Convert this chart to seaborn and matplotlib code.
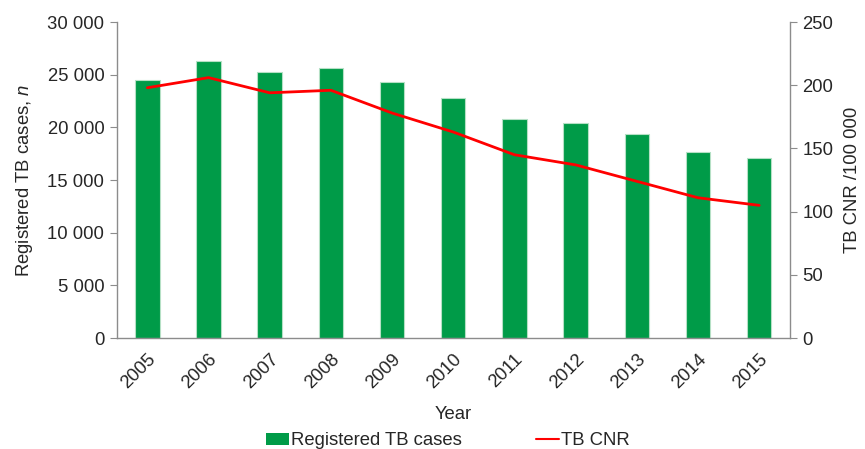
import numpy as np
import pandas as pd
import matplotlib
matplotlib.use("Agg")
import matplotlib.pyplot as plt
import seaborn as sns
from matplotlib.patches import Patch
from matplotlib.lines import Line2D

years = ["2005", "2006", "2007", "2008", "2009", "2010", "2011", "2012", "2013", "2014", "2015"]
cases = [24450, 26300, 25230, 25650, 24320, 22750, 20800, 20420, 19330, 17680, 17130]
cnr = [198, 206, 194, 196, 178, 163, 145, 137, 124, 111, 105]

left_ticks = [0, 5000, 10000, 15000, 20000, 25000, 30000]
left_labels = ["0", "5 000", "10 000", "15 000", "20 000", "25 000", "30 000"]
right_ticks = [0, 50, 100, 150, 200, 250]

sns.set_style("white")
plt.rcParams["font.family"] = ["Liberation Sans", "DejaVu Sans"]
plt.rcParams["mathtext.fontset"] = "custom"
plt.rcParams["mathtext.it"] = "Liberation Sans:italic"
plt.rcParams["mathtext.rm"] = "Liberation Sans"

txt = "#262626"
spine = "#8c8c8c"
green = "#009b48"
red = "#ff0000"
fs = 13.3

df = pd.DataFrame({"Year": years, "Cases": cases, "CNR": cnr})
df["pos"] = np.arange(len(df))

fig, ax = plt.subplots(figsize=(8.65, 4.49), dpi=100)
fig.subplots_adjust(left=0.135, right=0.913, top=0.951, bottom=0.247)

sns.barplot(data=df, x="Year", y="Cases", color=green, width=0.4,
            edgecolor="#b5e0c5", linewidth=0.8, saturation=1, ax=ax)
ax.set_ylim(0, 30000)
ax.set_xlim(-0.5, len(years) - 0.5)
ax.set_yticks(left_ticks)
ax.set_yticklabels(left_labels, fontsize=fs, color=txt)
ax.set_xticks(np.arange(len(years)))
ax.set_xticklabels(years, rotation=45, fontsize=fs, color=txt, ha="right",
                   rotation_mode="anchor")
ax.set_xticks(np.arange(len(years) + 1) - 0.5, minor=True)
ax.tick_params(axis="x", which="major", length=0, pad=9)
ax.tick_params(axis="x", which="minor", length=5, color=spine, direction="out")
ax.tick_params(axis="y", length=5, color=spine, direction="out", left=True, pad=4)
ax.set_xlabel("Year", fontsize=fs, color=txt, labelpad=10)
ax.set_ylabel(r"Registered TB cases, $\it{n}$", fontsize=fs, color=txt, labelpad=9)

ax2 = ax.twinx()
sns.lineplot(data=df, x="pos", y="CNR", color=red, linewidth=2, ax=ax2)
ax2.set_ylim(0, 250)
ax2.set_yticks(right_ticks)
ax2.set_yticklabels([str(t) for t in right_ticks], fontsize=fs, color=txt)
ax2.tick_params(axis="y", length=5, color=spine, direction="out", right=True, pad=4)
ax2.set_ylabel("TB CNR /100 000", fontsize=fs, color=txt, labelpad=8)
ax2.set_xlabel("")

for a in (ax, ax2):
    a.spines["top"].set_visible(False)
    for s in ("left", "right", "bottom"):
        a.spines[s].set_color(spine)
        a.spines[s].set_linewidth(1)
ax.spines["right"].set_visible(False)
ax2.spines["left"].set_visible(False)
ax2.spines["bottom"].set_visible(False)

handles = [Patch(facecolor=green, edgecolor="none"),
           Line2D([0], [0], color=red, linewidth=1.5)]
fig.legend(handles, ["Registered TB cases", "TB CNR"], loc="center",
           bbox_to_anchor=(0.518, 0.018), ncol=2, frameon=False,
           fontsize=fs, handlelength=1.25, handleheight=0.6, handletextpad=0.1,
           columnspacing=4.0, labelcolor=txt, borderpad=0.1)

fig.savefig("out.png", dpi=100)
